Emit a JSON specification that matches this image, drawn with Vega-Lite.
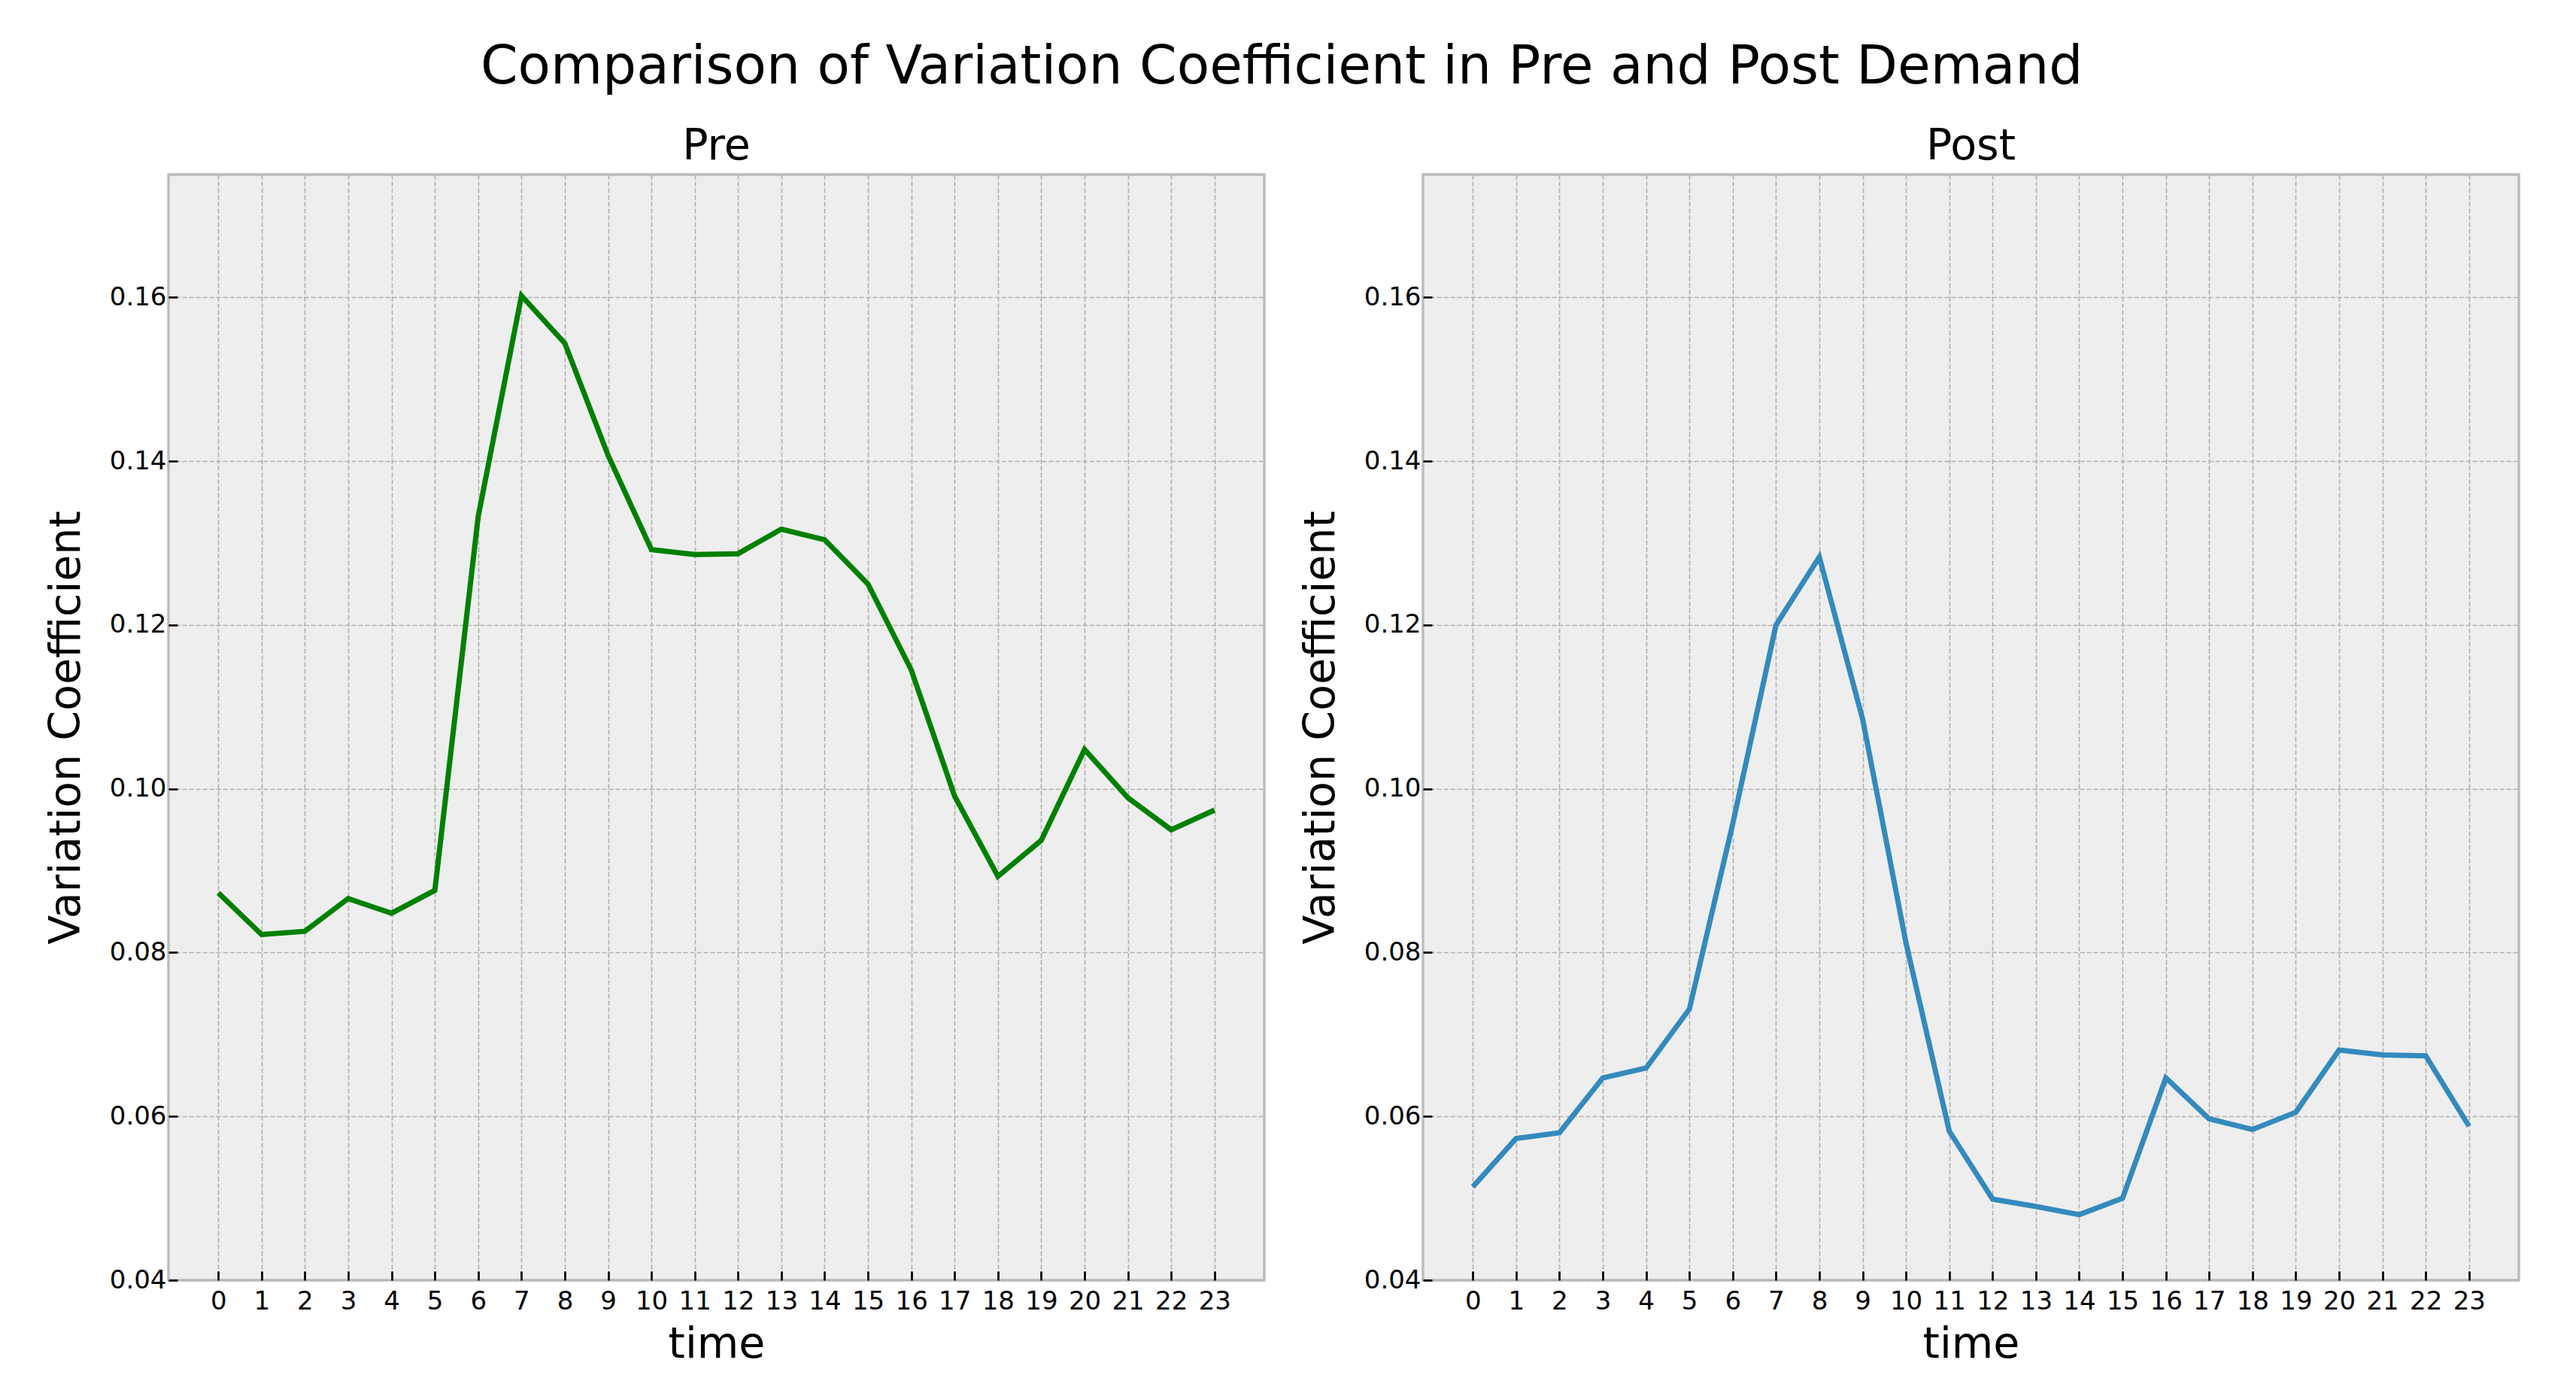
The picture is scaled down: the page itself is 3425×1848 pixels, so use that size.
{
  "$schema": "https://vega.github.io/schema/vega-lite/v6.json",
  "padding": {"left": 57, "top": 54, "right": 5, "bottom": 5},
  "background": "white",
  "title": {"text": "Comparison of Variation Coefficient in Pre and Post Demand", "fontSize": 71, "font": "DejaVu Sans", "fontWeight": "normal", "color": "black", "anchor": "middle", "offset": 38},
  "datasets": {
    "pre": [
      {"time": 0, "cv": 0.0873}, {"time": 1, "cv": 0.0822}, {"time": 2, "cv": 0.0826}, {"time": 3, "cv": 0.0866},
      {"time": 4, "cv": 0.0848}, {"time": 5, "cv": 0.0876}, {"time": 6, "cv": 0.1332}, {"time": 7, "cv": 0.1602},
      {"time": 8, "cv": 0.1544}, {"time": 9, "cv": 0.1407}, {"time": 10, "cv": 0.1292}, {"time": 11, "cv": 0.1286},
      {"time": 12, "cv": 0.1287}, {"time": 13, "cv": 0.1317}, {"time": 14, "cv": 0.1304}, {"time": 15, "cv": 0.1250},
      {"time": 16, "cv": 0.1145}, {"time": 17, "cv": 0.0991}, {"time": 18, "cv": 0.0893}, {"time": 19, "cv": 0.0937},
      {"time": 20, "cv": 0.1048}, {"time": 21, "cv": 0.0989}, {"time": 22, "cv": 0.0950}, {"time": 23, "cv": 0.0974}
    ],
    "post": [
      {"time": 0, "cv": 0.0514}, {"time": 1, "cv": 0.0573}, {"time": 2, "cv": 0.0580}, {"time": 3, "cv": 0.0647},
      {"time": 4, "cv": 0.0659}, {"time": 5, "cv": 0.0731}, {"time": 6, "cv": 0.0957}, {"time": 7, "cv": 0.1200},
      {"time": 8, "cv": 0.1283}, {"time": 9, "cv": 0.1085}, {"time": 10, "cv": 0.0812}, {"time": 11, "cv": 0.0582},
      {"time": 12, "cv": 0.0499}, {"time": 13, "cv": 0.0490}, {"time": 14, "cv": 0.0480}, {"time": 15, "cv": 0.0500},
      {"time": 16, "cv": 0.0647}, {"time": 17, "cv": 0.0597}, {"time": 18, "cv": 0.0584}, {"time": 19, "cv": 0.0605},
      {"time": 20, "cv": 0.0681}, {"time": 21, "cv": 0.0675}, {"time": 22, "cv": 0.0674}, {"time": 23, "cv": 0.0588}
    ]
  },
  "spacing": 42,
  "hconcat": [
    {
      "width": 1457, "height": 1470,
      "data": {"name": "pre"},
      "title": {"text": "Pre"},
      "mark": {"type": "line", "color": "#008000", "strokeWidth": 7},
      "encoding": {
        "x": {"field": "time", "type": "quantitative", "scale": {"domain": [-1.15, 24.15], "nice": false, "zero": false},
              "axis": {"values": [0,1,2,3,4,5,6,7,8,9,10,11,12,13,14,15,16,17,18,19,20,21,22,23], "title": "time"}},
        "y": {"field": "cv", "type": "quantitative", "scale": {"domain": [0.04, 0.175], "nice": false, "zero": false},
              "axis": {"values": [0.04,0.06,0.08,0.10,0.12,0.14,0.16], "format": ".2f", "title": "Variation Coefficient"}}
      }
    },
    {
      "width": 1457, "height": 1470,
      "data": {"name": "post"},
      "title": {"text": "Post"},
      "mark": {"type": "line", "color": "#348ABD", "strokeWidth": 7},
      "encoding": {
        "x": {"field": "time", "type": "quantitative", "scale": {"domain": [-1.15, 24.15], "nice": false, "zero": false},
              "axis": {"values": [0,1,2,3,4,5,6,7,8,9,10,11,12,13,14,15,16,17,18,19,20,21,22,23], "title": "time"}},
        "y": {"field": "cv", "type": "quantitative", "scale": {"domain": [0.04, 0.175], "nice": false, "zero": false},
              "axis": {"values": [0.04,0.06,0.08,0.10,0.12,0.14,0.16], "format": ".2f", "title": "Variation Coefficient"}}
      }
    }
  ],
  "config": {
    "font": "DejaVu Sans",
    "view": {"fill": "#eeeeee", "stroke": "#bcbcbc", "strokeWidth": 3.4},
    "axis": {
      "grid": true, "gridColor": "#b2b2b2", "gridDash": [6.3, 2.7], "gridWidth": 1.7, "gridOpacity": 1,
      "domain": false,
      "ticks": true, "tickColor": "black", "tickWidth": 2.7, "tickSize": -12,
      "labelFont": "DejaVu Sans", "labelFontSize": 34, "labelColor": "black",
      "titleFont": "DejaVu Sans", "titleFontSize": 57, "titleFontWeight": "normal", "titleColor": "black", "titlePadding": 12
    },
    "axisX": {"labelPadding": 23},
    "axisY": {"labelPadding": 15, "titlePadding": 28},
    "title": {"font": "DejaVu Sans", "fontSize": 57, "fontWeight": "normal", "color": "black", "offset": 8}
  }
}
